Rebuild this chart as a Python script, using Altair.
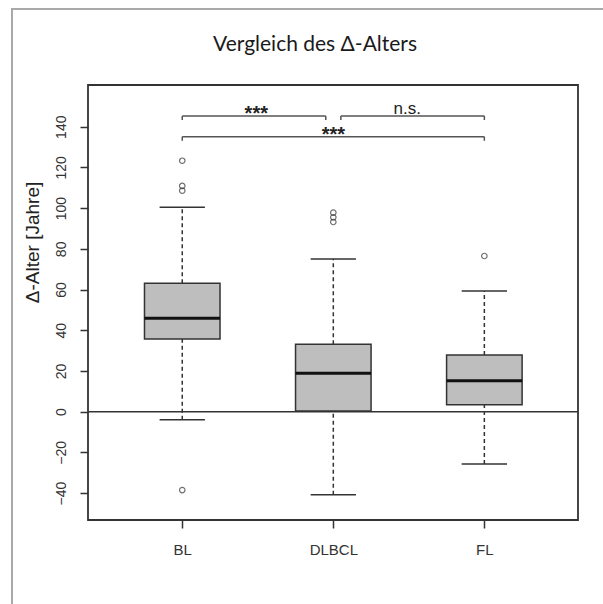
import altair as alt
import pandas as pd

# Box statistics per lymphoma group (Δ-Alter in Jahren)
groups = ["BL", "DLBCL", "FL"]
positions = [1, 2, 3]
lower_whisker = [-3.9, -40.8, -25.7]
q1 = [35.7, 0.4, 3.4]
median = [45.9, 18.9, 15.2]
q3 = [63.1, 33.2, 27.9]
upper_whisker = [100.4, 75.0, 59.3]

# Outliers beyond the whiskers
outlier_group = ["BL", "BL", "BL", "BL", "DLBCL", "DLBCL", "DLBCL", "FL"]
outlier_value = [123.3, 110.9, 108.6, -38.5, 97.8, 95.5, 93.2, 76.5]

# Significance brackets between groups
bracket_from = [1.0, 2.05, 1.0]
bracket_to = [1.95, 3.0, 3.0]
bracket_level = [145.3, 145.3, 135.1]
bracket_label = ["***", "n.s.", "***"]
bracket_label_pos = [1.49, 2.49, 2.0]

y_ticks = [-40, -20, 0, 20, 40, 60, 80, 100, 120, 140]
title_text = "Vergleich des Δ-Alters"

W, H = 490, 435
FONT = "Liberation Sans, Arial, sans-serif"
LINE = "#333333"

pos_of = dict(zip(groups, positions))
boxes = pd.DataFrame({
    "group": groups, "pos": positions, "lo": lower_whisker, "q1": q1,
    "med": median, "q3": q3, "hi": upper_whisker,
})
outliers = pd.DataFrame({
    "pos": [pos_of[g] for g in outlier_group], "value": outlier_value,
})
brackets = pd.DataFrame({
    "x1": bracket_from, "x2": bracket_to, "level": bracket_level,
    "label": bracket_label, "lx": bracket_label_pos,
})

label_expr = "[" + ",".join(f"'{g}'" for g in groups) + "][datum.value - 1]"
x_scale = alt.Scale(domain=[0.376, 3.62], nice=False, zero=False)
y_scale = alt.Scale(domain=[-53.2, 160.5], nice=False, zero=False)
x_axis = alt.Axis(
    values=positions, labelExpr=label_expr, grid=False, domain=False,
    tickSize=8, tickColor=LINE, tickWidth=1.5, labelFont=FONT, labelFontSize=15,
    labelColor="#333333", labelBaseline="alphabetic", labelPadding=26, title=None,
)
y_axis = alt.Axis(
    values=y_ticks, grid=False, domain=False, tickSize=8, tickColor=LINE,
    tickWidth=1.5, labelFont=FONT, labelFontSize=14, labelColor="#333333",
    labelAngle=270, labelAlign="center", labelBaseline="alphabetic",
    labelPadding=15, title="Δ-Alter [Jahre]", titleFont=FONT, titleFontSize=19,
    titleFontWeight="normal", titleColor="#222222", titleAngle=270,
    titleAlign="center", titleBaseline="alphabetic", titleX=-50, titleY=157,
)


def X(field):
    return alt.X(field, type="quantitative", scale=x_scale, axis=x_axis, title=None)


def Y(field):
    return alt.Y(field, type="quantitative", scale=y_scale, axis=y_axis, title="Δ-Alter [Jahre]")


base = alt.Chart(boxes).transform_calculate(
    xl="datum.pos - 0.25", xr="datum.pos + 0.25",
    cl="datum.pos - 0.15", cr="datum.pos + 0.15",
)

upper_dash = base.mark_rule(color=LINE, strokeWidth=1.5, strokeDash=[4, 3]).encode(
    x=X("pos"), y=Y("q3"), y2="hi:Q")
lower_dash = base.mark_rule(color=LINE, strokeWidth=1.5, strokeDash=[4, 3]).encode(
    x=X("pos"), y=Y("lo"), y2="q1:Q")
cap_hi = base.mark_rule(color=LINE, strokeWidth=1.5).encode(
    x=X("cl"), x2="cr:Q", y=Y("hi"))
cap_lo = base.mark_rule(color=LINE, strokeWidth=1.5).encode(
    x=X("cl"), x2="cr:Q", y=Y("lo"))
box = base.mark_rect(fill="#bebebe", stroke=LINE, strokeWidth=1.5).encode(
    x=X("xl"), x2="xr:Q", y=Y("q1"), y2="q3:Q")
med = base.mark_rule(color="#111111", strokeWidth=3).encode(
    x=X("xl"), x2="xr:Q", y=Y("med"))

zero_line = alt.Chart(pd.DataFrame({"v": [0]})).mark_rule(
    color=LINE, strokeWidth=1.6).encode(
    x=alt.value(0), x2=alt.value(W), y=Y("v"))

points = alt.Chart(outliers).mark_point(
    shape="circle", size=30, filled=False, color=LINE, strokeWidth=1.2).encode(
    x=X("pos"), y=Y("value"))

br = alt.Chart(brackets).transform_calculate(tip="datum.level - 2")
bracket_line = br.mark_rule(color="#555555", strokeWidth=1.5).encode(
    x=X("x1"), x2="x2:Q", y=Y("level"))
bracket_left = br.mark_rule(color="#555555", strokeWidth=1.5).encode(
    x=X("x1"), y=Y("level"), y2="tip:Q")
bracket_right = br.mark_rule(color="#555555", strokeWidth=1.5).encode(
    x=X("x2"), y=Y("level"), y2="tip:Q")
stars = br.transform_filter("datum.label == '***'").mark_text(
    font=FONT, fontSize=20, fontWeight="bold", color="#222222",
    baseline="alphabetic", dy=4.5).encode(
    x=X("lx"), y=Y("level"), text="label:N")
ns = br.transform_filter("datum.label != '***'").mark_text(
    font=FONT, fontSize=17, color="#222222", baseline="alphabetic", dy=-2).encode(
    x=X("lx"), y=Y("level"), text="label:N")

one = pd.DataFrame({"k": [0]})

# plot box
plot_frame = alt.Chart(one).mark_rect(fill=None, stroke=LINE, strokeWidth=1.8).encode(
    x=alt.value(0), x2=alt.value(W), y=alt.value(0), y2=alt.value(H))

# light frame around the whole figure
frame_left = alt.Chart(one).mark_rule(color="#a9a9a9", strokeWidth=2).encode(
    x=alt.value(-76), y=alt.value(-76), y2=alt.value(530))
frame_top = alt.Chart(one).mark_rule(color="#a9a9a9", strokeWidth=2).encode(
    x=alt.value(-77), x2=alt.value(530), y=alt.value(-76))

heading = alt.Chart(pd.DataFrame({"t": [title_text]})).mark_text(
    font="Lato, Open Sans, sans-serif", fontSize=21, color="#1a1a1a",
    baseline="alphabetic", align="center").encode(
    x=alt.value(227), y=alt.value(-34), text="t:N")

chart = alt.layer(
    frame_left, frame_top, heading, zero_line, upper_dash, lower_dash, cap_hi,
    cap_lo, box, med, points, bracket_line, bracket_left, bracket_right, stars,
    ns, plot_frame,
).properties(
    width=W, height=H,
    autosize=alt.AutoSizeParams(type="none"),
    padding={"left": 88, "top": 85, "right": 25, "bottom": 84},
    background="white",
).configure_view(stroke=None)

chart.save("out.html", embed_options={"renderer": "svg", "actions": False})
